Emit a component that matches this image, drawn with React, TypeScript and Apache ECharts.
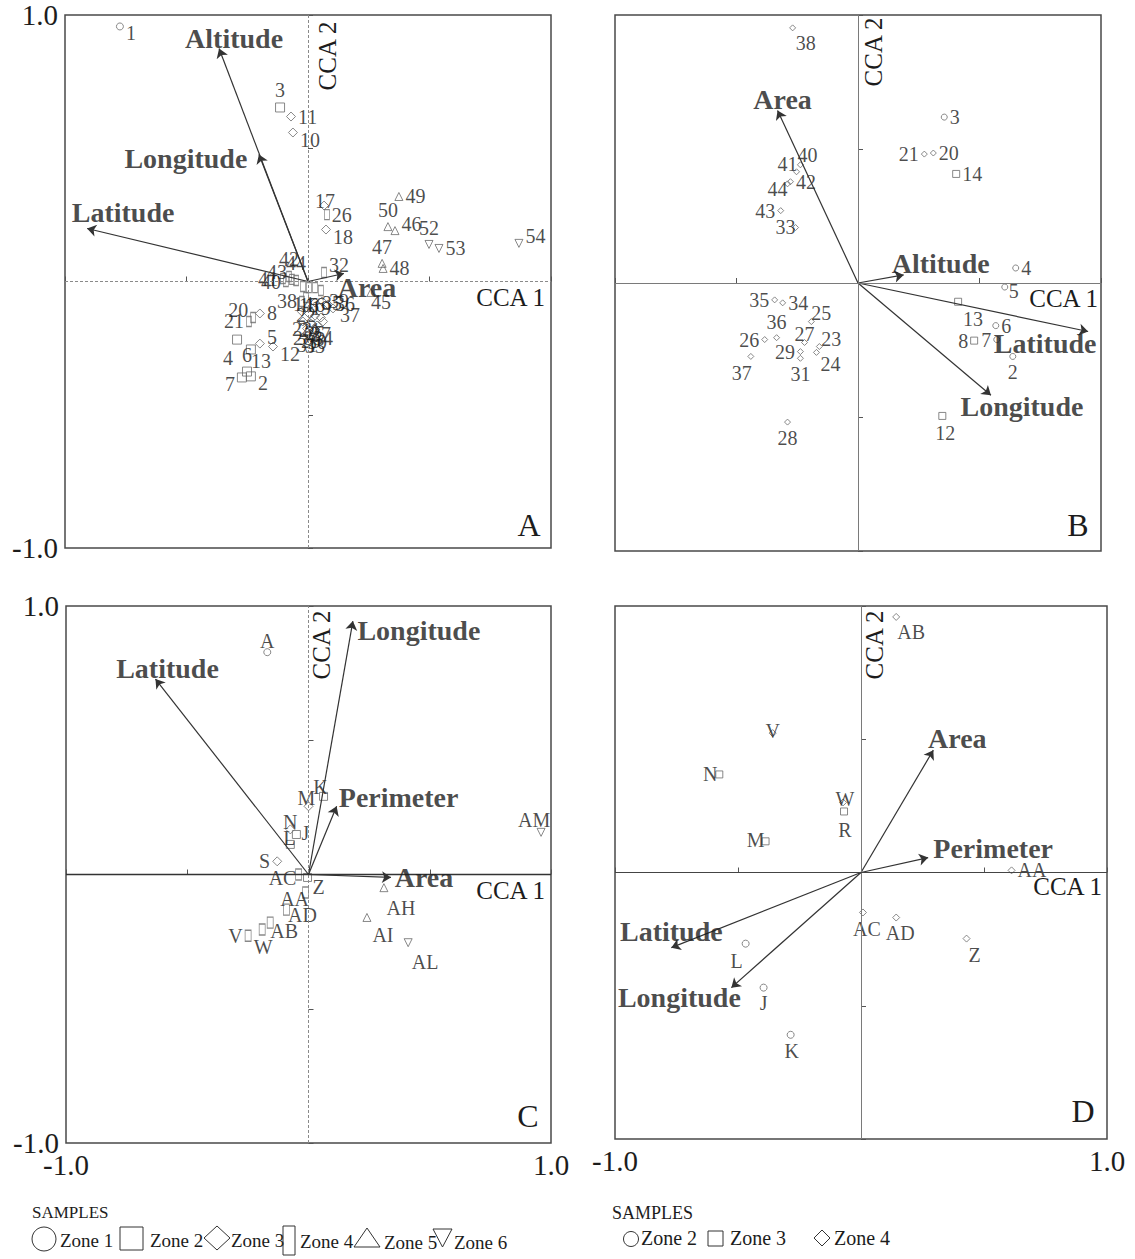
import React, { useEffect, useRef } from 'react';
import * as echarts from 'echarts';

const FONT = "'Liberation Serif', 'Times New Roman', serif";
type P = [string, number, number];

// ---------- Panel A ----------
const A_ZONE1: P[] = [['1', -0.774, 0.957]];
const A_ZONE2: P[] = [['3', -0.115, 0.653], ['4', -0.292, -0.218], ['13', -0.235, -0.255], ['6', -0.251, -0.338], ['7', -0.272, -0.36], ['2', -0.235, -0.356]];
const A_ZONE3: P[] = [['5', -0.198, -0.233], ['8', -0.198, -0.12], ['10', -0.062, 0.559], ['11', -0.07, 0.619], ['12', -0.144, -0.244], ['17', 0.066, 0.285], ['18', 0.074, 0.195], ['35', 0.029, -0.079], ['39', 0.058, -0.075], ['36', 0.082, -0.086], ['37', 0.103, -0.101], ['23', -0.025, -0.113], ['24', 0.004, -0.12], ['25', 0.029, -0.128], ['27', 0.053, -0.135], ['28', -0.021, -0.15], ['29', 0.012, -0.158], ['30', 0.037, -0.165], ['31', -0.004, -0.176], ['33', 0.029, -0.18], ['34', 0.062, -0.15]];
const A_ZONE4: P[] = [['20', -0.226, -0.135], ['21', -0.243, -0.15], ['26', 0.078, 0.251], ['32', 0.066, 0.034], ['40', -0.091, 0.0], ['42', -0.078, 0.019], ['43', -0.066, 0.008], ['44', -0.049, 0.004], ['41', -0.103, 0.011], ['14', -0.021, -0.019], ['15', 0.004, -0.023], ['16', 0.029, -0.023], ['19', 0.053, -0.034], ['22', -0.008, -0.06], ['38', -0.025, -0.075]];
const A_ZONE5: P[] = [['45', 0.259, -0.041], ['46', 0.358, 0.191], ['47', 0.305, 0.068], ['48', 0.309, 0.049], ['49', 0.374, 0.319], ['50', 0.329, 0.206]];
const A_ZONE6: P[] = [['52', 0.498, 0.139], ['53', 0.539, 0.124], ['54', 0.868, 0.143]];
const A_VECTORS: P[] = [['Altitude', -0.366, 0.874], ['Longitude', -0.202, 0.477], ['Latitude', -0.909, 0.199], ['Area', 0.148, 0.03]];

// ---------- Panel B ----------
const B_ZONE2: P[] = [['2', 0.637, -0.274], ['3', 0.355, 0.619], ['4', 0.649, 0.056], ['5', 0.604, -0.015], ['6', 0.567, -0.159], ['7', 0.571, -0.211]];
const B_ZONE3: P[] = [['8', 0.478, -0.215], ['12', 0.347, -0.496], ['13', 0.412, -0.07], ['14', 0.404, 0.407]];
const B_ZONE4: P[] = [['20', 0.31, 0.485], ['21', 0.273, 0.481], ['23', -0.159, -0.237], ['24', -0.171, -0.259], ['25', -0.192, -0.144], ['26', -0.384, -0.211], ['27', -0.22, -0.222], ['28', -0.29, -0.519], ['29', -0.237, -0.256], ['31', -0.237, -0.281], ['33', -0.257, 0.207], ['34', -0.31, -0.074], ['35', -0.343, -0.063], ['36', -0.335, -0.204], ['37', -0.441, -0.274], ['38', -0.269, 0.952], ['40', -0.237, 0.441], ['41', -0.253, 0.415], ['42', -0.278, 0.378], ['43', -0.318, 0.27], ['44', -0.29, 0.37]];
const B_VECTORS: P[] = [['Area', -0.331, 0.644], ['Altitude', 0.188, 0.03], ['Latitude', 0.947, -0.181], ['Longitude', 0.547, -0.419]];

// ---------- Panel C ----------
const C_ZONE1: P[] = [['A', -0.17, 0.828]];
const C_ZONE2: P[] = [['K', 0.062, 0.291], ['J', -0.05, 0.149], ['L', -0.075, 0.112], ['Z', -0.004, -0.011]];
const C_ZONE3: P[] = [['M', 0.0, 0.254], ['S', -0.129, 0.049], ['N', -0.075, 0.168]];
const C_ZONE4: P[] = [['AC', -0.041, 0.0], ['AA', -0.012, -0.067], ['AD', -0.091, -0.131], ['AB', -0.158, -0.179], ['W', -0.191, -0.205], ['V', -0.249, -0.228]];
const C_ZONE5: P[] = [['AH', 0.311, -0.049], ['AI', 0.241, -0.16]];
const C_ZONE6: P[] = [['AL', 0.411, -0.254], ['AM', 0.959, 0.157]];
const C_VECTORS: P[] = [['Latitude', -0.631, 0.728], ['Longitude', 0.183, 0.944], ['Perimeter', 0.116, 0.254], ['Area', 0.34, -0.011]];

// ---------- Panel D ----------
const D_ZONE2: P[] = [['L', -0.469, -0.267], ['J', -0.396, -0.432], ['K', -0.286, -0.609]];
const D_ZONE3: P[] = [['N', -0.576, 0.368], ['M', -0.388, 0.117], ['R', -0.069, 0.229]];
const D_ZONE4: P[] = [['AB', 0.143, 0.959], ['V', -0.359, 0.523], ['W', -0.073, 0.263], ['AA', 0.612, 0.008], ['AC', 0.008, -0.15], ['AD', 0.143, -0.169], ['Z', 0.429, -0.248]];
const D_VECTORS: P[] = [['Area', 0.294, 0.459], ['Perimeter', 0.273, 0.056], ['Latitude', -0.771, -0.282], ['Longitude', -0.527, -0.432]];

const AXIS_TICK_LABELS = ['-1.0', '1.0'];
const LEGEND_LEFT = ['Zone 1', 'Zone 2', 'Zone 3', 'Zone 4', 'Zone 5', 'Zone 6'];
const LEGEND_RIGHT = ['Zone 2', 'Zone 3', 'Zone 4'];

// ---------- label placement (style) ----------
type Pos = string | [number, number];
const A_POS: Record<string, Pos> = {
  '1': 'br', '3': 't', '11': 'r', '10': 'br', '17': [1, -5], '26': 'r', '18': 'br', '49': 'r', '50': 't', '46': 'tr',
  '52': 't', '53': 'r', '54': 'tr', '47': 't', '48': 'r', '32': 'tr', '42': 't', '40': 'l', '43': 'tl', '44': 't', '41': 'l',
  '38': 'l', '37': 'br', '45': [10, 10], '20': 'tl', '8': 'r', '21': 'l', '5': 'tr', '12': 'br', '13': [10, 12], '4': [-9, 18],
  '6': 't', '7': 'bl', '2': 'br', '35': 'r', '39': 'r', '36': 'r',
};
const B_POS: Record<string, Pos> = {
  '2': 'b', '3': 'r', '4': 'r', '5': [9, 4], '6': 'r', '7': 'l', '8': 'l', '12': [3, 17], '13': [15, 17], '14': 'r',
  '20': 'r', '21': 'l', '23': [12, -8], '24': [14, 12], '25': [10, -9], '26': 'l', '27': [0, -8], '28': 'b', '29': 'l',
  '31': 'b', '33': [-10, -1], '34': 'r', '35': 'l', '36': 't', '37': [-9, 17], '38': [13, 15], '40': [7, -10], '41': [-9, -8],
  '42': 'r', '43': 'l', '44': [-10, 5],
};
const C_POS: Record<string, Pos> = {
  'A': [0, -11], 'K': [-3, -9], 'M': [-2, -8], 'N': [0, -7], 'J': [9, -1], 'L': [-1, -6], 'S': 'l', 'AC': [-16, 3],
  'Z': [11, 10], 'AA': [-11, 7], 'AD': [16, 5], 'AB': [14, 8], 'W': [1, 17], 'V': 'l', 'AH': [17, 20], 'AI': [16, 18],
  'AL': [17, 19], 'AM': [-7, -12],
};
const D_POS: Record<string, Pos> = {
  'L': [-9, 17], 'J': [0, 15], 'K': [1, 16], 'N': [-9, 0], 'M': [-10, -1], 'R': [1, 19], 'AB': [15, 15], 'V': [0, -2],
  'W': [2, -3], 'AA': 'r', 'AC': [4, 17], 'AD': [4, 15], 'Z': [8, 16],
};
const VEC_OFFSETS: Record<string, [number, number]>[] = [
  { Altitude: [15, -10], Longitude: [-73, 4], Latitude: [36, -16], Area: [23, 14] },
  { Area: [5, -11], Altitude: [37, -11], Latitude: [-43, 12], Longitude: [31, 11] },
  { Latitude: [12, -11], Longitude: [66, 9], Perimeter: [62, -9], Area: [33, 0] },
  { Area: [24, -12], Perimeter: [65, -9], Latitude: [0, -16], Longitude: [-52, 10] },
];

function labelFor(code: Pos) {
  if (Array.isArray(code)) return { position: 'inside', offset: code };
  switch (code) {
    case 'r': return { position: 'right' };
    case 'l': return { position: 'left' };
    case 't': return { position: 'top' };
    case 'b': return { position: 'bottom' };
    case 'tr': return { position: 'right', offset: [0, -7] };
    case 'br': return { position: 'right', offset: [0, 7] };
    case 'tl': return { position: 'left', offset: [0, -7] };
    case 'bl': return { position: 'left', offset: [0, 7] };
  }
  return { position: 'right' };
}

const MARK = '#6a6a6a';
const TXT = '#1c1c1c';

function pointSeries(g: number, pts: P[], symbol: string, size: any, pos: Record<string, Pos>, def: Pos, fontSize: number, rotate = 0) {
  return {
    type: 'scatter', xAxisIndex: g, yAxisIndex: g, symbol, symbolSize: size, symbolRotate: rotate,
    itemStyle: { color: 'rgba(0,0,0,0)', borderColor: MARK, borderWidth: 1 },
    label: { show: true, formatter: '{b}', fontFamily: FONT, fontSize, color: TXT, distance: 2 },
    data: pts.map(([n, x, y]) => ({ name: n, value: [x, y], label: labelFor(pos[n] ?? def) })),
    z: 3,
  };
}

function vectorSeries(g: number, vecs: P[], zeroStyles: any[]) {
  return [
    {
      type: 'lines', coordinateSystem: 'cartesian2d', xAxisIndex: g, yAxisIndex: g,
      symbol: ['none', 'arrow'], symbolSize: 9,
      lineStyle: { color: '#333', width: 1.2, opacity: 1, curveness: 0 },
      data: vecs.map(([, x, y]) => ({ coords: [[0, 0], [x, y]] })),
      z: 4,
    },
    {
      type: 'scatter', xAxisIndex: g, yAxisIndex: g, symbol: 'circle', symbolSize: 1,
      itemStyle: { color: 'rgba(0,0,0,0)' },
      data: vecs.map(([n, x, y]) => ({
        name: n, value: [x, y],
        label: { show: true, position: 'inside', offset: VEC_OFFSETS[g][n], formatter: '{b}', fontFamily: FONT, fontWeight: 'bold', fontSize: 28, color: TXT },
      })),
      markLine: {
        silent: true, symbol: ['none', 'none'], label: { show: false },
        data: [{ xAxis: 0, lineStyle: zeroStyles[0] }, { yAxis: 0, lineStyle: zeroStyles[1] }],
      },
      z: 5,
    },
  ];
}

const GRIDS = [
  { left: 65, top: 15, width: 486, height: 533 },
  { left: 615, top: 15, width: 486, height: 536 },
  { left: 66, top: 606, width: 485, height: 537 },
  { left: 615, top: 606, width: 492, height: 533 },
];

function buildOption() {
  const grid = GRIDS.map((g) => ({ ...g, show: true, borderColor: '#4a4a4a', borderWidth: 1.5, backgroundColor: 'transparent' }));
  const fmt = (v: number) => (v === -1 ? AXIS_TICK_LABELS[0] : v === 1 ? AXIS_TICK_LABELS[1] : '');
  const xAxis = GRIDS.map((_, i) => ({
    gridIndex: i, type: 'value', min: -1, max: 1, interval: 0.5,
    axisLine: { show: false }, splitLine: { show: false },
    axisTick: { show: true, inside: true, length: 5, lineStyle: { color: '#555' } },
    axisLabel: { show: i >= 2, formatter: fmt, fontFamily: FONT, fontSize: 29, color: TXT, margin: 7 },
  }));
  const yAxis = GRIDS.map((_, i) => ({
    gridIndex: i, type: 'value', min: -1, max: 1, interval: 0.5,
    axisLine: { show: false }, splitLine: { show: false },
    axisTick: { show: true, inside: true, length: 5, lineStyle: { color: '#555' } },
    axisLabel: { show: i % 2 === 0, formatter: fmt, fontFamily: FONT, fontSize: 29, color: TXT, margin: 7 },
  }));

  const dashed = { color: '#8a8a8a', type: [3, 2], width: 1 };
  const solidGray = { color: '#7a7a7a', type: 'solid', width: 1 };
  const solidDark = { color: '#333', type: 'solid', width: 1.3 };

  const series: any[] = [
    pointSeries(0, A_ZONE1, 'circle', 7, A_POS, 'b', 20),
    pointSeries(0, A_ZONE2, 'rect', 9, A_POS, 'b', 20),
    pointSeries(0, A_ZONE3, 'diamond', 9, A_POS, 'b', 20),
    pointSeries(0, A_ZONE4, 'rect', [5, 10], A_POS, 'b', 20),
    pointSeries(0, A_ZONE5, 'triangle', 8, A_POS, 'r', 20),
    pointSeries(0, A_ZONE6, 'triangle', 8, A_POS, 'r', 20, 180),
    ...vectorSeries(0, A_VECTORS, [dashed, dashed]),

    pointSeries(1, B_ZONE2, 'circle', 6, B_POS, 'r', 20),
    pointSeries(1, B_ZONE3, 'rect', 7, B_POS, 'r', 20),
    pointSeries(1, B_ZONE4, 'diamond', 6, B_POS, 'r', 20),
    ...vectorSeries(1, B_VECTORS, [solidGray, solidGray]),

    pointSeries(2, C_ZONE1, 'circle', 7, C_POS, 't', 20),
    pointSeries(2, C_ZONE2, 'rect', 8, C_POS, 'r', 20),
    pointSeries(2, C_ZONE3, 'diamond', 9, C_POS, 'r', 20),
    pointSeries(2, C_ZONE4, 'rect', [6, 11], C_POS, 'r', 20),
    pointSeries(2, C_ZONE5, 'triangle', 8, C_POS, 'r', 20),
    pointSeries(2, C_ZONE6, 'triangle', 8, C_POS, 'r', 20, 180),
    ...vectorSeries(2, C_VECTORS, [dashed, solidDark]),

    pointSeries(3, D_ZONE2, 'circle', 7, D_POS, 'b', 20),
    pointSeries(3, D_ZONE3, 'rect', 7, D_POS, 'l', 20),
    pointSeries(3, D_ZONE4, 'diamond', 7, D_POS, 'b', 20),
    ...vectorSeries(3, D_VECTORS, [solidGray, { color: '#444', type: 'solid', width: 1.2 }]),
  ];

  const txt = (text: string, x: number, y: number, size: number, extra: any = {}) => ({
    type: 'text', x, y, z: 10, ...extra,
    style: { text, fontFamily: FONT, fontSize: size, fill: TXT, textAlign: extra.align || 'left', textVerticalAlign: 'middle' },
  });
  const stroke = { fill: 'none', stroke: '#333', lineWidth: 1 };

  const graphic: any[] = [
    // axis names
    txt('CCA 2', 327, 56, 25, { rotation: Math.PI / 2, align: 'center' }),
    txt('CCA 2', 873, 52, 25, { rotation: Math.PI / 2, align: 'center' }),
    txt('CCA 2', 321, 645, 25, { rotation: Math.PI / 2, align: 'center' }),
    txt('CCA 2', 874, 645, 25, { rotation: Math.PI / 2, align: 'center' }),
    txt('CCA 1', 545, 297, 25, { align: 'right' }),
    txt('CCA 1', 1098, 298, 25, { align: 'right' }),
    txt('CCA 1', 545, 890, 25, { align: 'right' }),
    txt('CCA 1', 1102, 886, 25, { align: 'right' }),
    // panel letters
    txt('A', 529, 525, 32, { align: 'center' }),
    txt('B', 1078, 525, 32, { align: 'center' }),
    txt('C', 528, 1116, 32, { align: 'center' }),
    txt('D', 1083, 1111, 32, { align: 'center' }),
    // left legend
    txt('SAMPLES', 32, 1212, 17),
    { type: 'circle', z: 10, shape: { cx: 44, cy: 1239, r: 12 }, style: stroke },
    txt(LEGEND_LEFT[0], 60, 1240, 19),
    { type: 'rect', z: 10, shape: { x: 120, y: 1227, width: 23, height: 23 }, style: stroke },
    txt(LEGEND_LEFT[1], 150, 1240, 19),
    { type: 'polygon', z: 10, shape: { points: [[204, 1238], [217, 1226], [230, 1238], [217, 1250]] }, style: stroke },
    txt(LEGEND_LEFT[2], 231, 1240, 19),
    { type: 'rect', z: 10, shape: { x: 283, y: 1226, width: 12, height: 29 }, style: stroke },
    txt(LEGEND_LEFT[3], 300, 1241, 19),
    { type: 'polygon', z: 10, shape: { points: [[354, 1247], [367, 1228], [380, 1247]] }, style: stroke },
    txt(LEGEND_LEFT[4], 384, 1242, 19),
    { type: 'polygon', z: 10, shape: { points: [[433, 1229], [452, 1229], [442.5, 1247]] }, style: stroke },
    txt(LEGEND_LEFT[5], 454, 1242, 19),
    // right legend
    txt('SAMPLES', 612, 1213, 18),
    { type: 'circle', z: 10, shape: { cx: 631, cy: 1239, r: 7.5 }, style: stroke },
    txt(LEGEND_RIGHT[0], 641, 1238, 20),
    { type: 'rect', z: 10, shape: { x: 708, y: 1231, width: 15, height: 15 }, style: stroke },
    txt(LEGEND_RIGHT[1], 730, 1238, 20),
    { type: 'polygon', z: 10, shape: { points: [[814, 1238], [822, 1230], [830, 1238], [822, 1246]] }, style: stroke },
    txt(LEGEND_RIGHT[2], 834, 1238, 20),
  ];

  return { animation: false, backgroundColor: '#fff', grid, xAxis, yAxis, series, graphic };
}

export default function App() {
  const ref = useRef<HTMLDivElement>(null);
  useEffect(() => {
    if (!ref.current) return;
    const chart = echarts.init(ref.current, undefined, { renderer: 'svg' });
    chart.setOption(buildOption() as any);
    return () => chart.dispose();
  }, []);
  return <div ref={ref} style={{ position: 'absolute', left: 0, top: 0, width: 1135, height: 1259 }} />;
}
